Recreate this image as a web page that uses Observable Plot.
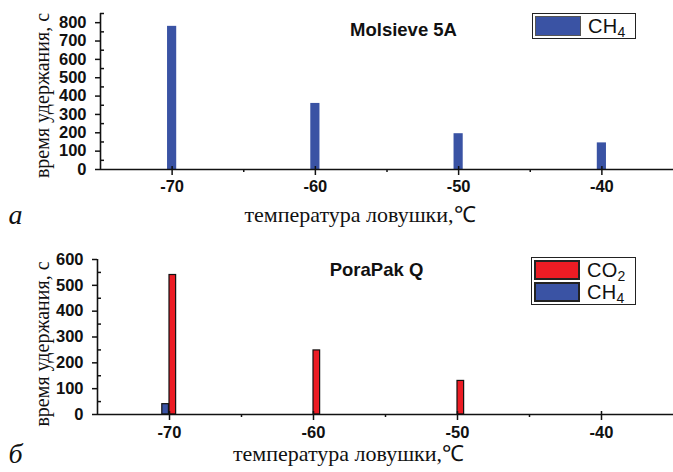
<!DOCTYPE html>
<html><head><meta charset="utf-8">
<script src="https://cdn.jsdelivr.net/npm/d3@7"></script>
<script src="https://cdn.jsdelivr.net/npm/@observablehq/plot@0.6"></script>
<style>
body{margin:0;background:#fff;}
#wrap{position:relative;width:673px;height:472px;overflow:hidden;font-family:"Liberation Sans",Arial,sans-serif;}
#wrap svg{position:absolute;left:0;}
.legend{position:absolute;border:1.5px solid #222;background:#fff;box-sizing:border-box;}
.row{position:absolute;left:2px;height:20px;width:100px;}
.sw{position:absolute;left:0;top:0;width:46px;height:100%;box-sizing:border-box;}
.lt{position:absolute;left:53px;top:50%;transform:translateY(-52%);font-size:20px;color:#111;line-height:1;letter-spacing:0.3px;}
.lt sub{font-size:14px;vertical-align:-4px;line-height:0;}
</style>
</head><body>
<div id="wrap"></div>
<script>
const temps = [-70, -60, -50, -40];
const molsieveCH4 = [780, 360, 195, 145];
const porapakCO2 = [540, 248, 130, 0];
const porapakCH4 = [40, 0, 0, 0];
const xTicks = [-70, -60, -50, -40];
const xMinorTicks = [-65, -55, -45];
const yTicksTop = [0, 100, 200, 300, 400, 500, 600, 700, 800];
const yMinorTop = [50, 150, 250, 350, 450, 550, 650, 750, 850];
const yTicksBottom = [0, 100, 200, 300, 400, 500, 600];
const yMinorBottom = [50, 150, 250, 350, 450, 550];

const blue = "#3a53a4";
const red = "#ec1c24";
const ink = "#111";
const serif = "'Liberation Serif','Times New Roman',serif";

const topData = temps.map((t, i) => ({t, v: molsieveCH4[i]})).filter(d => d.v > 0);
const co2Data = temps.map((t, i) => ({t, v: porapakCO2[i]})).filter(d => d.v > 0);
const ch4Data = temps.map((t, i) => ({t, v: porapakCH4[i]})).filter(d => d.v > 0);

const fmt = d => String(d);

function frameMarks(yMax, yTicks, yMinor, pad) {
  return [
    Plot.ruleY([0], {stroke: ink, strokeWidth: 1.6}),
    Plot.ruleX([-75], {y1: 0, y2: yMax, stroke: ink, strokeWidth: 1.6}),
    Plot.axisX({ticks: xTicks, tickSize: 6, tickPadding: pad, tickFormat: fmt, label: null, strokeWidth: 1.5}),
    Plot.axisX({ticks: xTicks, tickSize: -3, tickFormat: () => "", label: null, strokeWidth: 1.5}),
    Plot.axisX({ticks: xMinorTicks, tickSize: 3, tickFormat: () => "", label: null, strokeWidth: 1.5}),
    Plot.axisY({ticks: yTicks, tickSize: 5, tickPadding: 9, tickFormat: fmt, label: null, strokeWidth: 1.5}),
    Plot.axisY({ticks: yMinor, tickSize: -4, tickFormat: () => "", label: null, strokeWidth: 1.5})
  ];
}

const style = {fontFamily: "'Liberation Sans',Arial,sans-serif", fontSize: "16.5px", fontWeight: "bold", color: ink, background: "transparent", overflow: "visible"};

const topPlot = Plot.plot({
  width: 673, height: 237, marginLeft: 100, marginRight: 0, marginTop: 13, marginBottom: 68,
  x: {domain: [-75, -35]}, y: {domain: [0, 850]},
  style,
  marks: [
    Plot.rectY(topData, {x1: d => d.t - 0.32, x2: d => d.t + 0.32, y1: 0, y2: "v", fill: blue}),
    ...frameMarks(850, yTicksTop, yMinorTop, 5),
    Plot.text(["время удержания, с"], {frameAnchor: "left", textAnchor: "middle", lineAnchor: "middle", rotate: -90, dx: -58, dy: 4, fontFamily: serif, fontSize: 20, fontWeight: "normal", fill: ink}),
    Plot.text(["температура ловушки,℃"], {frameAnchor: "bottom", textAnchor: "middle", lineAnchor: "middle", dx: -27, dy: 45, fontFamily: serif, fontSize: 22, fontWeight: "normal", fill: ink}),
    Plot.text(["а"], {frameAnchor: "bottom-left", textAnchor: "middle", lineAnchor: "middle", dx: -85, dy: 46, fontFamily: serif, fontSize: 28, fontStyle: "italic", fontWeight: "normal", fill: ink}),
    Plot.text(["Molsieve 5A"], {frameAnchor: "top-left", textAnchor: "middle", lineAnchor: "middle", dx: 303, dy: 17, fontSize: 18.5, fill: ink})
  ]
});
topPlot.style.top = "0px";

const botPlot = Plot.plot({
  width: 673, height: 235, marginLeft: 97, marginRight: 0, marginTop: 22, marginBottom: 58,
  x: {domain: [-75, -35]}, y: {domain: [0, 600]},
  style,
  marks: [
    Plot.rectY(co2Data, {x1: d => d.t, x2: d => d.t + 0.46, y1: 0, y2: "v", fill: red, stroke: ink, strokeWidth: 1.2}),
    Plot.rectY(ch4Data, {x1: d => d.t - 0.5, x2: d => d.t - 0.04, y1: 0, y2: "v", fill: blue, stroke: ink, strokeWidth: 1.2}),
    ...frameMarks(600, yTicksBottom, yMinorBottom, 6),
    Plot.text(["время удержания, с"], {frameAnchor: "left", textAnchor: "middle", lineAnchor: "middle", rotate: -90, dx: -55, dy: 7, fontFamily: serif, fontSize: 20, fontWeight: "normal", fill: ink}),
    Plot.text(["температура ловушки,℃"], {frameAnchor: "bottom", textAnchor: "middle", lineAnchor: "middle", dx: -37, dy: 39, fontFamily: serif, fontSize: 22, fontWeight: "normal", fill: ink}),
    Plot.text(["б"], {frameAnchor: "bottom-left", textAnchor: "middle", lineAnchor: "middle", dx: -82, dy: 40, fontFamily: serif, fontSize: 28, fontStyle: "italic", fontWeight: "normal", fill: ink}),
    Plot.text(["PoraPak Q"], {frameAnchor: "top-left", textAnchor: "middle", lineAnchor: "middle", dx: 279, dy: 11, fontSize: 18.5, fill: ink})
  ]
});
botPlot.style.top = "237px";

const wrap = document.getElementById("wrap");
wrap.appendChild(topPlot);
wrap.appendChild(botPlot);

function legend(left, top, width, items) {
  const box = document.createElement("div");
  box.className = "legend";
  Object.assign(box.style, {left: left + "px", top: top + "px", width: width + "px", height: (items.length * 22 + 4) + "px"});
  items.forEach((it, i) => {
    const row = document.createElement("div");
    row.className = "row";
    row.style.top = (2 + i * 22) + "px";
    const sw = document.createElement("div");
    sw.className = "sw";
    sw.style.background = it.color;
    sw.style.border = it.border;
    const lt = document.createElement("div");
    lt.className = "lt";
    lt.innerHTML = it.label;
    row.appendChild(sw); row.appendChild(lt);
    box.appendChild(row);
  });
  wrap.appendChild(box);
}
legend(532, 13, 104, [{color: blue, border: "1px solid #555", label: "CH<sub>4</sub>"}]);
legend(531, 257, 105, [
  {color: red, border: "2px solid #222", label: "CO<sub>2</sub>"},
  {color: blue, border: "2px solid #222", label: "CH<sub>4</sub>"}
]);
</script>
</body></html>
